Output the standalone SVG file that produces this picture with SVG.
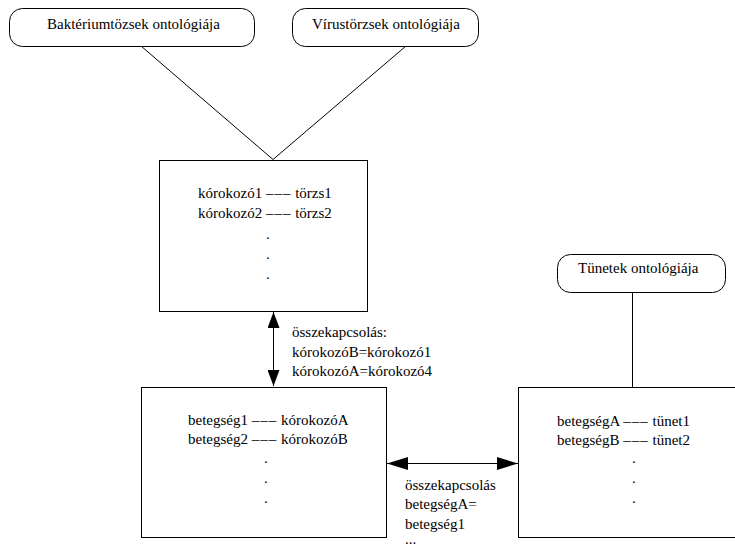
<svg xmlns="http://www.w3.org/2000/svg" width="735" height="548" viewBox="0 0 735 548">
<style>
text{font-family:"Liberation Serif","Times New Roman",serif;font-size:15px;fill:#000}
.d{letter-spacing:1px}
.box{fill:#fff;stroke:#000;stroke-width:1}
.ln{fill:none;stroke:#000;stroke-width:1}
</style>
<defs>
<marker id="ahV" markerUnits="userSpaceOnUse" markerWidth="16" markerHeight="12" viewBox="0 0 16 12" refX="16" refY="6" orient="auto-start-reverse"><path d="M0,0 L16,6 L0,12 z" fill="#000"/></marker>
<marker id="ahH" markerUnits="userSpaceOnUse" markerWidth="21" markerHeight="13" viewBox="0 0 21 13" refX="21" refY="6.5" orient="auto-start-reverse"><path d="M0,0 L21,6.5 L0,13 z" fill="#000"/></marker>
</defs>
<rect width="735" height="548" fill="#fff"/>
<g id="connectors">
<path class="ln" d="M141,46 L273,159.5 L406,46"/>
<path class="ln" d="M632.5,292 L632.5,387"/>
<path class="ln" d="M273.5,312 L273.5,386" marker-start="url(#ahV)" marker-end="url(#ahV)"/>
<path class="ln" d="M387,463.5 L518,463.5" marker-start="url(#ahH)" marker-end="url(#ahH)"/>
</g>
<g id="bakterium">
<rect class="box" x="9.5" y="8.5" width="245" height="38" rx="13"/>
<text x="47" y="29">Baktériumtözsek ontológiája</text>
</g>
<g id="virus">
<rect class="box" x="292.5" y="8.5" width="186" height="38" rx="13"/>
<text x="312" y="29">Vírustörzsek ontológiája</text>
</g>
<g id="tunetek">
<rect class="box" x="557.5" y="254.5" width="168" height="38" rx="13"/>
<text x="578" y="273">Tünetek ontológiája</text>
</g>
<g id="korokozo">
<rect class="box" x="159.5" y="160.5" width="208" height="151"/>
<text x="198" y="198">kórokozó1 <tspan class="d">–––</tspan> törzs1</text>
<text x="198" y="218">kórokozó2 <tspan class="d">–––</tspan> törzs2</text>
<text x="266" y="239">.</text>
<text x="266" y="259">.</text>
<text x="266" y="279">.</text>
</g>
<g id="betegseg">
<rect class="box" x="141.5" y="387.5" width="245" height="150"/>
<text x="188" y="425">betegség1 <tspan class="d">–––</tspan> kórokozóA</text>
<text x="188" y="444">betegség2 <tspan class="d">–––</tspan> kórokozóB</text>
<text x="264" y="463">.</text>
<text x="264" y="483">.</text>
<text x="264" y="503">.</text>
</g>
<g id="tunet">
<rect class="box" x="518.5" y="387.5" width="225" height="150"/>
<text x="557" y="426">betegségA <tspan class="d">–––</tspan> tünet1</text>
<text x="557" y="445">betegségB <tspan class="d">–––</tspan> tünet2</text>
<text x="632" y="463">.</text>
<text x="632" y="483">.</text>
<text x="632" y="503">.</text>
</g>
<g id="label1">
<text x="292" y="337">összekapcsolás:</text>
<text x="292" y="357">kórokozóB=kórokozó1</text>
<text x="292" y="376">kórokozóA=kórokozó4</text>
</g>
<g id="label2">
<text x="405" y="490">összekapcsolás</text>
<text x="405" y="509">betegségA=</text>
<text x="405" y="529">betegség1</text>
<text x="405" y="544">...</text>
</g>
</svg>
